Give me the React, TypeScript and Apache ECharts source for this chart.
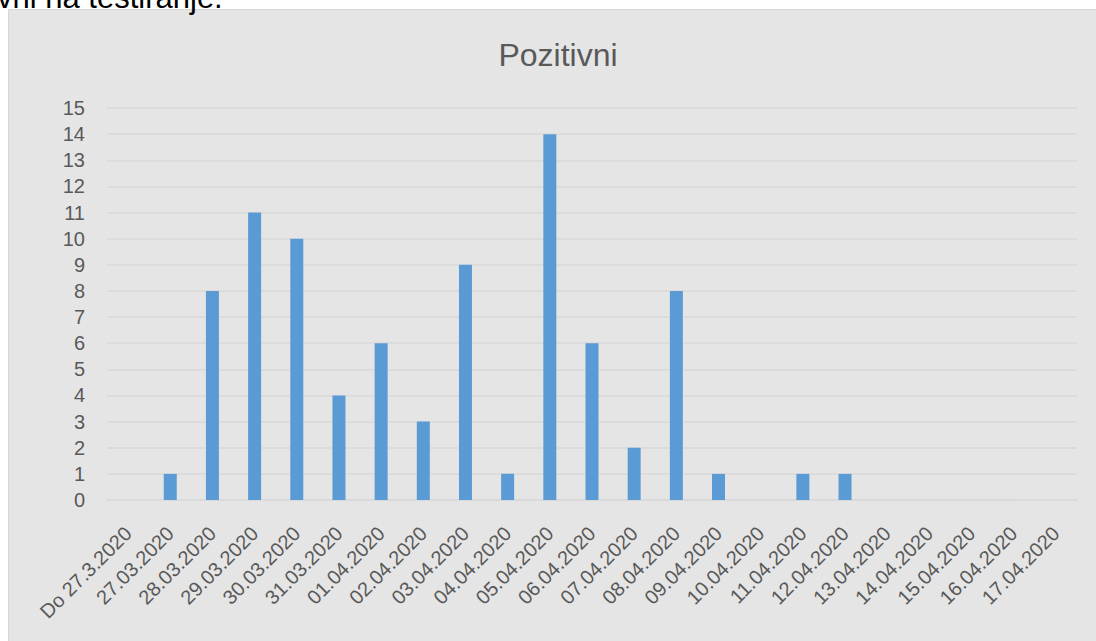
import React, { useEffect, useRef } from "react";
import * as echarts from "echarts";

const categories = [
  "Do 27.3.2020", "27.03.2020", "28.03.2020", "29.03.2020", "30.03.2020", "31.03.2020",
  "01.04.2020", "02.04.2020", "03.04.2020", "04.04.2020", "05.04.2020", "06.04.2020",
  "07.04.2020", "08.04.2020", "09.04.2020", "10.04.2020", "11.04.2020", "12.04.2020",
  "13.04.2020", "14.04.2020", "15.04.2020", "16.04.2020", "17.04.2020",
];
const pozitivni = [0, 1, 8, 11, 10, 4, 6, 3, 9, 1, 14, 6, 2, 8, 1, 0, 1, 1, 0, 0, 0, 0, 0];

const FONT = "'Liberation Sans', 'DejaVu Sans', sans-serif";

export default function App() {
  const ref = useRef<HTMLDivElement>(null);
  useEffect(() => {
    document.body.style.margin = "0";
    const chart = echarts.init(ref.current!, null, { renderer: "svg" });
    chart.setOption({
      animation: false,
      backgroundColor: "#ffffff",
      graphic: [
        {
          type: "rect",
          silent: true,
          z: -10,
          shape: { x: 8.5, y: 9.5, width: 1200, height: 800 },
          style: { fill: "#e5e5e5", stroke: "#d6d6d6", lineWidth: 1 },
        },
        {
          type: "text",
          silent: true,
          x: -3,
          y: 13,
          style: {
            text: "vni na testiranje.",
            fill: "#000000",
            font: `31px ${FONT}`,
            verticalAlign: "bottom",
          },
        },
      ],
      title: {
        text: "Pozitivni",
        left: 553,
        top: 34,
        textAlign: "center",
        textStyle: { color: "#595959", fontSize: 32, fontWeight: "normal", fontFamily: FONT },
      },
      grid: { left: 107, right: 19, top: 108, bottom: 141, containLabel: false },
      xAxis: {
        type: "category",
        data: categories,
        axisLine: { show: true, lineStyle: { color: "#d9d9d9", width: 1.5 } },
        axisTick: { show: false },
        axisLabel: {
          interval: 0,
          rotate: 45,
          color: "#595959",
          fontSize: 20,
          fontFamily: FONT,
          margin: 30,
        },
      },
      yAxis: {
        type: "value",
        min: 0,
        max: 15,
        interval: 1,
        axisLine: { show: false },
        axisTick: { show: false },
        splitLine: { lineStyle: { color: "#d9d9d9", width: 1.5 } },
        axisLabel: { color: "#595959", fontSize: 20, fontFamily: FONT, margin: 22 },
      },
      series: [
        {
          type: "bar",
          name: "Pozitivni",
          data: pozitivni,
          barWidth: 13,
          itemStyle: { color: "#5b9bd5" },
        },
      ],
    });
    return () => chart.dispose();
  }, []);
  return <div ref={ref} style={{ width: 1096, height: 641 }} />;
}
